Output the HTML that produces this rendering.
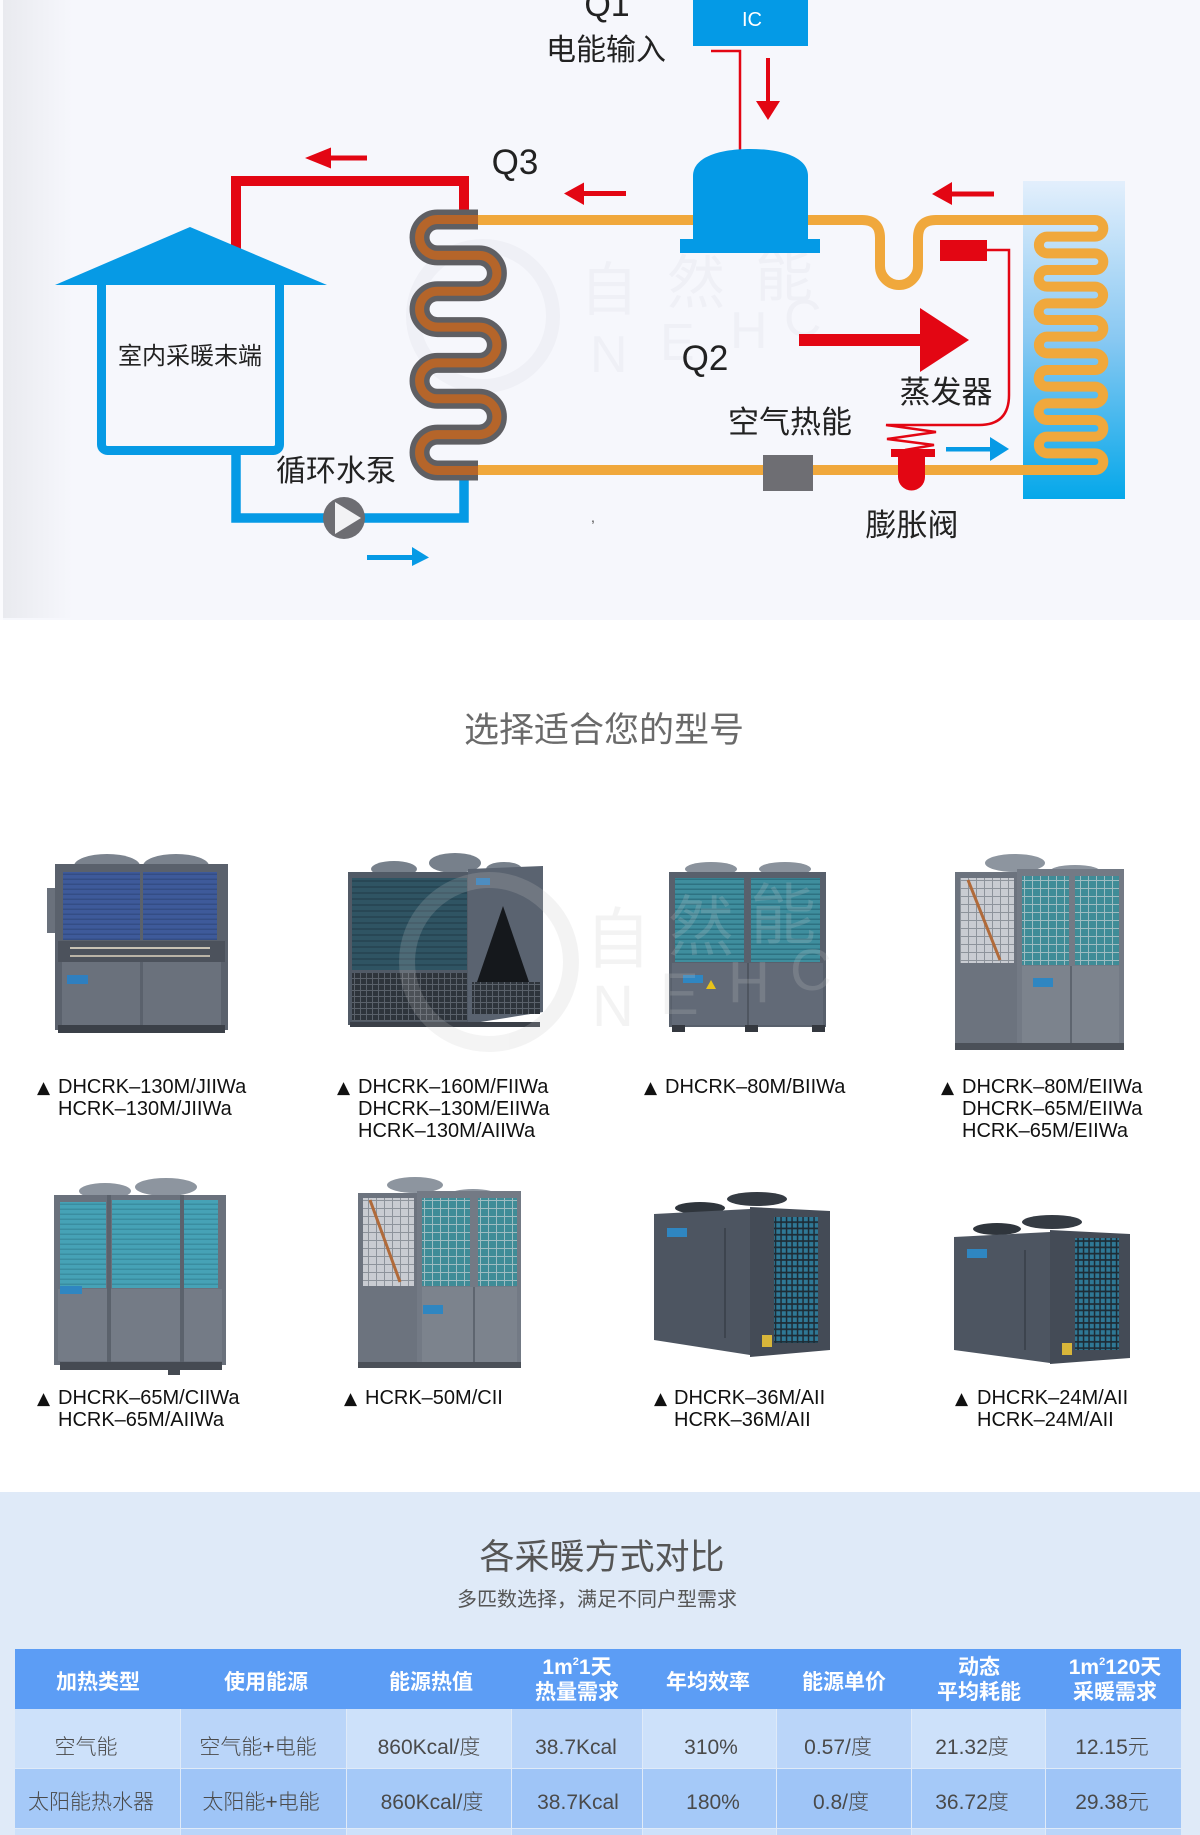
<!DOCTYPE html>
<html>
<head>
<meta charset="utf-8">
<style>
html,body{margin:0;padding:0;background:#fff;}
svg{display:block;}
.t{font-family:"Liberation Sans","Noto Sans CJK SC",sans-serif;}
.cn{font-family:"Liberation Sans","Noto Sans CJK SC",sans-serif;}
</style>
</head>
<body>
<svg width="1200" height="1835" viewBox="0 0 1200 1835" xmlns="http://www.w3.org/2000/svg">
<defs>
  <linearGradient id="evap" x1="0" y1="0" x2="0" y2="1">
    <stop offset="0" stop-color="#e3effc"/>
    <stop offset="0.5" stop-color="#88c8f2"/>
    <stop offset="1" stop-color="#05a8ea"/>
  </linearGradient>
  <linearGradient id="leftedge" x1="0" y1="0" x2="1" y2="0">
    <stop offset="0" stop-color="#e9eaef"/>
    <stop offset="1" stop-color="#f6f7fc"/>
  </linearGradient>
  <pattern id="fin" width="4" height="5" patternUnits="userSpaceOnUse"><rect width="4" height="5" fill="#3f8e9e"/><rect y="3.5" width="4" height="1.5" fill="#2e7282"/></pattern>
  <pattern id="finl" width="4" height="5" patternUnits="userSpaceOnUse"><rect width="4" height="5" fill="#46a2b6"/><rect y="3.5" width="4" height="1.5" fill="#3a8da0"/></pattern>
  <pattern id="finb" width="4" height="5" patternUnits="userSpaceOnUse"><rect width="4" height="5" fill="#3e5a9a"/><rect y="3.5" width="4" height="1.5" fill="#344d85"/></pattern>
  <pattern id="find" width="4" height="6" patternUnits="userSpaceOnUse"><rect width="4" height="6" fill="#2f5463"/><rect y="4" width="4" height="2" fill="#284755"/></pattern>
  <pattern id="grill" width="5.5" height="6.3" patternUnits="userSpaceOnUse"><rect width="5.5" height="6.3" fill="#1e2b34"/><rect x="0.8" y="0.8" width="4" height="4.6" fill="#2f7895"/></pattern>
  <pattern id="mesh" width="8" height="8" patternUnits="userSpaceOnUse"><rect width="8" height="8" fill="#3f8c97"/><path d="M0,0.5H8M0.5,0V8" stroke="#9fbcc1" stroke-width="1"/></pattern>
  <pattern id="meshw" width="8" height="8" patternUnits="userSpaceOnUse"><rect width="8" height="8" fill="#c9ccd2"/><path d="M0,0.5H8M0.5,0V8" stroke="#8d939b" stroke-width="1"/></pattern>
  <pattern id="blk" width="6" height="6" patternUnits="userSpaceOnUse"><rect width="6" height="6" fill="#2e343b"/><path d="M0,0.5H6M0.5,0V6" stroke="#5a616a" stroke-width="1"/></pattern>
</defs>

<!-- ============ DIAGRAM PANEL ============ -->
<rect x="0" y="0" width="1200" height="620" fill="#f6f7fc"/>
<rect x="3" y="0" width="70" height="618" fill="url(#leftedge)"/>
<rect x="0" y="0" width="3" height="620" fill="#fbfbfe"/>

<!-- watermark diagram -->
<g fill="none" stroke="#eff0f6" stroke-width="14">
  <circle cx="483" cy="316" r="70"/>
</g>
<g class="cn" fill="#eff0f6" font-size="58">
  <text x="580" y="310">自</text>
  <text x="667" y="303">然</text>
  <text x="755" y="296">能</text>
</g>
<g class="t" fill="#eff0f6" font-size="52">
  <text x="590" y="372">N</text>
  <text x="660" y="360">E</text>
  <text x="730" y="348">H</text>
  <text x="784" y="336">C</text>
</g>

<!-- IC box -->
<rect x="693" y="0" width="115" height="46" fill="#049ae6"/>
<text x="752" y="26" class="t" font-size="20" fill="#ffffff" text-anchor="middle">IC</text>
<path d="M711,51 H740 V150" fill="none" stroke="#e30613" stroke-width="2.5"/>
<!-- down arrow -->
<rect x="766" y="58" width="4" height="46" fill="#e30613"/>
<polygon points="756,101 780,101 768,120" fill="#e30613"/>

<!-- labels top -->
<text x="607" y="16" class="t" font-size="34" fill="#222" text-anchor="middle">Q1</text>
<text x="606" y="60" class="cn" font-size="30" fill="#222" text-anchor="middle">电能输入</text>
<text x="515" y="174" class="t" font-size="35" fill="#222" text-anchor="middle">Q3</text>

<!-- red water pipe -->
<path d="M236,252 V181 H464 V214" fill="none" stroke="#e30613" stroke-width="10"/>
<!-- blue water pipe -->
<path d="M236,448 V518 H464 V476" fill="none" stroke="#069ae5" stroke-width="9.5"/>

<!-- house -->
<rect x="101.5" y="272" width="178" height="178.5" rx="6" fill="none" stroke="#069ae5" stroke-width="9"/>
<polygon points="55,285 190,227 327,285" fill="#069ae5"/>
<text x="190" y="364" class="cn" font-size="24" fill="#222" text-anchor="middle">室内采暖末端</text>

<!-- red arrow top-left -->
<rect x="326" y="155.5" width="41" height="5" fill="#e30613"/>
<polygon points="305,158 331,147.5 331,168.5" fill="#e30613"/>

<!-- condenser coil -->
<path d="M478,219.5 H437.5 A17.9,17.9 0 0 0 437.5,255.4 H479 A17.9,17.9 0 0 1 479,291.2 H437.5 A17.9,17.9 0 0 0 437.5,327.1 H479 A17.9,17.9 0 0 1 479,362.9 H437.5 A17.9,17.9 0 0 0 437.5,398.8 H479 A17.9,17.9 0 0 1 479,434.6 H437.5 A17.9,17.9 0 0 0 437.5,470.5 H478" fill="none" stroke="#5f5f63" stroke-width="20"/>
<path d="M478,219.5 H437.5 A17.9,17.9 0 0 0 437.5,255.4 H479 A17.9,17.9 0 0 1 479,291.2 H437.5 A17.9,17.9 0 0 0 437.5,327.1 H479 A17.9,17.9 0 0 1 479,362.9 H437.5 A17.9,17.9 0 0 0 437.5,398.8 H479 A17.9,17.9 0 0 1 479,434.6 H437.5 A17.9,17.9 0 0 0 437.5,470.5 H478" fill="none" stroke="#b5652a" stroke-width="9"/>

<!-- evaporator panel -->
<rect x="1023" y="181" width="102" height="318" fill="url(#evap)"/>

<!-- refrigerant orange pipe -->
<path d="M478,220 H862 Q880,220 880,238 V266 A19,19 0 0 0 918,266 V238 Q918,220 936,220 H1095 A8.333,8.333 0 0 1 1095,236.67 H1047 A8.333,8.333 0 0 0 1047,253.33 H1095 A8.333,8.333 0 0 1 1095,270 H1047 A8.333,8.333 0 0 0 1047,286.67 H1095 A8.333,8.333 0 0 1 1095,303.33 H1047 A8.333,8.333 0 0 0 1047,320 H1095 A8.333,8.333 0 0 1 1095,336.67 H1047 A8.333,8.333 0 0 0 1047,353.33 H1095 A8.333,8.333 0 0 1 1095,370 H1047 A8.333,8.333 0 0 0 1047,386.67 H1095 A8.333,8.333 0 0 1 1095,403.33 H1047 A8.333,8.333 0 0 0 1047,420 H1095 A8.333,8.333 0 0 1 1095,436.67 H1047 A8.333,8.333 0 0 0 1047,453.33 H1095 A8.333,8.333 0 0 1 1095,470 H478" fill="none" stroke="#f0a83c" stroke-width="10"/>

<!-- compressor -->
<path d="M693,176 C693,156 722,149 750,149 C779,149 808,156 808,176 V240 H693 Z" fill="#049ae6"/>
<rect x="680" y="239" width="140" height="14" fill="#049ae6"/>

<!-- red arrow left of compressor -->
<rect x="582" y="191" width="44" height="5" fill="#e30613"/>
<polygon points="564,193.5 584,182.5 584,205" fill="#e30613"/>
<!-- red arrow above U -->
<rect x="950" y="191.5" width="44" height="5" fill="#e30613"/>
<polygon points="932,194 952,182 952,205" fill="#e30613"/>

<!-- sensor -->
<rect x="940" y="240" width="47" height="21" fill="#e30613"/>
<path d="M987,250 H1009 V395 Q1009,425 979,425 H886 L936,432 L887,439 L934,445 L905,450" fill="none" stroke="#e30613" stroke-width="2.5" stroke-linejoin="miter"/>

<!-- big Q2 arrow -->
<rect x="799" y="334" width="123" height="12" fill="#e30613"/>
<polygon points="920,308 969,340 920,372" fill="#e30613"/>
<text x="705" y="370" class="t" font-size="35" fill="#222" text-anchor="middle">Q2</text>

<text x="946" y="403" class="cn" font-size="31" fill="#222" text-anchor="middle">蒸发器</text>
<text x="790" y="433" class="cn" font-size="31" fill="#222" text-anchor="middle">空气热能</text>
<text x="912" y="536" class="cn" font-size="31" fill="#222" text-anchor="middle">膨胀阀</text>

<!-- gray filter box -->
<rect x="763" y="455" width="50" height="36" fill="#6e6e73"/>
<!-- expansion valve -->
<rect x="891" y="449" width="44" height="8" fill="#e30613"/>
<path d="M898,456 V477 A13.5,13.5 0 0 0 925,477 V456 Z" fill="#e30613"/>

<!-- blue arrow right -->
<rect x="946" y="447" width="46" height="4.5" fill="#069ae5"/>
<polygon points="990,437 1009,449 990,461" fill="#069ae5"/>

<!-- pump -->
<circle cx="344" cy="518" r="21" fill="#6d6d72"/>
<polygon points="335,502 335,534 361,518" fill="#f2f2f4"/>
<text x="336" y="481" class="cn" font-size="30" fill="#222" text-anchor="middle">循环水泵</text>

<!-- blue arrow bottom -->
<rect x="367" y="555" width="47" height="5" fill="#069ae5"/>
<polygon points="412,547 429,557.5 412,566" fill="#069ae5"/>

<text x="591" y="522" class="t" font-size="14" fill="#444">,</text>

<!-- ============ PRODUCTS ============ -->
<text x="604" y="742" class="cn" font-size="35" fill="#6a6a6a" text-anchor="middle">选择适合您的型号</text>

<!-- Product 1 -->
<g>
  <ellipse cx="107" cy="866" rx="33" ry="12" fill="#7b838e"/>
  <ellipse cx="176" cy="866" rx="33" ry="12" fill="#7b838e"/>
  <rect x="47" y="888" width="10" height="45" fill="#6a717c"/>
  <rect x="55" y="864" width="173" height="166" fill="#5a616c"/>
  <rect x="63" y="872" width="77" height="68" fill="url(#finb)"/>
  <rect x="143" y="872" width="74" height="68" fill="url(#finb)"/>
  <rect x="58" y="941" width="167" height="21" fill="#4c525c"/>
  <rect x="70" y="947" width="140" height="2" fill="#c8c2b4"/>
  <rect x="70" y="955" width="140" height="2" fill="#b9b3a6"/>
  <rect x="62" y="962" width="78" height="63" fill="#6a717c"/>
  <rect x="143" y="962" width="78" height="63" fill="#6a717c"/>
  <rect x="67" y="975" width="21" height="9" fill="#2f7fbf"/>
  <rect x="58" y="1025" width="167" height="8" fill="#3b4048"/>
</g>
<!-- Product 2 -->
<g>
  <ellipse cx="394" cy="869" rx="23" ry="8" fill="#77808b"/>
  <ellipse cx="455" cy="863" rx="26" ry="10" fill="#77808b"/>
  <ellipse cx="504" cy="869" rx="18" ry="7" fill="#77808b"/>
  <rect x="348" y="872" width="121" height="153" fill="#515a66"/>
  <rect x="352" y="878" width="115" height="92" fill="url(#find)"/>
  <rect x="352" y="973" width="115" height="48" fill="url(#blk)"/>
  <polygon points="468,869 543,866 543,1012 468,1024" fill="#5a6370"/>
  <polygon points="503,906 477,982 529,982" fill="#15181c"/>
  <rect x="472" y="982" width="68" height="32" fill="url(#blk)"/>
  <rect x="476" y="878" width="14" height="7" fill="#2f7fbf"/>
  <rect x="350" y="1022" width="190" height="5" fill="#3a3f47"/>
</g>
<!-- Product 3 -->
<g>
  <ellipse cx="711" cy="869" rx="26" ry="7" fill="#8a929c"/>
  <ellipse cx="785" cy="869" rx="26" ry="7" fill="#8a929c"/>
  <rect x="669" y="872" width="157" height="155" fill="#58606c"/>
  <rect x="675" y="878" width="69" height="84" fill="url(#fin)"/>
  <rect x="751" y="878" width="69" height="84" fill="url(#fin)"/>
  <rect x="672" y="963" width="151" height="62" fill="#626a77"/>
  <rect x="747" y="963" width="2" height="62" fill="#4f5661"/>
  <rect x="683" y="975" width="20" height="8" fill="#2f86c1"/>
  <polygon points="711,980 716,989 706,989" fill="#e8c21a"/>
  <rect x="672" y="1025" width="13" height="7" fill="#34383f"/>
  <rect x="745" y="1025" width="13" height="7" fill="#34383f"/>
  <rect x="812" y="1025" width="13" height="7" fill="#34383f"/>
</g>
<!-- Product 4 -->
<g>
  <ellipse cx="1015" cy="863" rx="30" ry="9" fill="#8d959f"/>
  <ellipse cx="1075" cy="872" rx="26" ry="7" fill="#8d959f"/>
  <rect x="955" y="872" width="63" height="172" fill="#6c737e"/>
  <rect x="960" y="878" width="54" height="85" fill="url(#meshw)"/>
  <line x1="968" y1="880" x2="1000" y2="960" stroke="#b06a3a" stroke-width="3"/>
  <rect x="1017" y="869" width="107" height="181" fill="#737a85"/>
  <rect x="1022" y="876" width="47" height="89" fill="url(#mesh)"/>
  <rect x="1075" y="876" width="44" height="89" fill="url(#mesh)"/>
  <rect x="1022" y="966" width="97" height="78" fill="#7c838d"/>
  <rect x="1070" y="966" width="2" height="78" fill="#5e656f"/>
  <rect x="1033" y="978" width="20" height="9" fill="#2f86c1"/>
  <rect x="955" y="1043" width="169" height="7" fill="#4b5058"/>
</g>
<!-- Product 5 -->
<g>
  <ellipse cx="105" cy="1191" rx="26" ry="8" fill="#8d959f"/>
  <ellipse cx="166" cy="1187" rx="31" ry="9" fill="#8d959f"/>
  <rect x="54" y="1195" width="172" height="170" fill="#6a717c"/>
  <rect x="60" y="1202" width="46" height="86" fill="url(#finl)"/>
  <rect x="112" y="1200" width="68" height="88" fill="url(#finl)"/>
  <rect x="183" y="1200" width="35" height="88" fill="url(#finl)"/>
  <rect x="58" y="1289" width="164" height="72" fill="#747b86"/>
  <rect x="107" y="1195" width="4" height="170" fill="#5b626c"/>
  <rect x="180" y="1195" width="4" height="175" fill="#5b626c"/>
  <rect x="60" y="1286" width="22" height="8" fill="#2f86c1"/>
  <rect x="60" y="1362" width="162" height="8" fill="#454a52"/>
  <rect x="168" y="1365" width="12" height="10" fill="#454a52"/>
</g>
<!-- Product 6 -->
<g>
  <ellipse cx="415" cy="1185" rx="28" ry="8" fill="#8d959f"/>
  <ellipse cx="473" cy="1195" rx="24" ry="6" fill="#8d959f"/>
  <rect x="358" y="1193" width="60" height="170" fill="#6c737e"/>
  <rect x="363" y="1198" width="51" height="88" fill="url(#meshw)"/>
  <line x1="370" y1="1200" x2="400" y2="1282" stroke="#b06a3a" stroke-width="3"/>
  <rect x="417" y="1191" width="104" height="177" fill="#737a85"/>
  <rect x="422" y="1198" width="48" height="88" fill="url(#mesh)"/>
  <rect x="478" y="1198" width="39" height="88" fill="url(#mesh)"/>
  <rect x="422" y="1287" width="95" height="77" fill="#7c838d"/>
  <rect x="473" y="1287" width="2" height="77" fill="#5e656f"/>
  <rect x="423" y="1305" width="20" height="9" fill="#2f86c1"/>
  <rect x="358" y="1362" width="163" height="6" fill="#4b5058"/>
</g>
<!-- Product 7 -->
<g>
  <ellipse cx="700" cy="1208" rx="25" ry="6" fill="#2f353c"/>
  <ellipse cx="757" cy="1199" rx="30" ry="7" fill="#353b43"/>
  <polygon points="654,1214 750,1209 750,1355 654,1340" fill="#4d5561"/>
  <polygon points="750,1207 830,1211 830,1350 750,1357" fill="#444b56"/>
  <rect x="774" y="1217" width="44" height="126" fill="url(#grill)"/>
  <rect x="667" y="1228" width="20" height="9" fill="#2f86c1"/>
  <rect x="724" y="1228" width="2" height="110" fill="#3d444e"/>
  <rect x="762" y="1335" width="10" height="12" fill="#d8b63a"/>
</g>
<!-- Product 8 -->
<g>
  <ellipse cx="997" cy="1229" rx="24" ry="6" fill="#2f353c"/>
  <ellipse cx="1052" cy="1222" rx="30" ry="7" fill="#353b43"/>
  <polygon points="954,1237 1050,1232 1050,1363 954,1350" fill="#4d5561"/>
  <polygon points="1050,1230 1130,1234 1130,1358 1050,1364" fill="#444b56"/>
  <rect x="1075" y="1238" width="44" height="112" fill="url(#grill)"/>
  <rect x="967" y="1249" width="20" height="9" fill="#2f86c1"/>
  <rect x="1024" y="1250" width="2" height="100" fill="#3d444e"/>
  <rect x="1062" y="1343" width="10" height="12" fill="#d8b63a"/>
</g>

<!-- products watermark overlay -->
<g opacity="0.2">
  <circle cx="489" cy="962" r="82" fill="none" stroke="#c8c8c8" stroke-width="16"/>
  <g class="cn" fill="#c8c8c8" font-size="66">
    <text x="585" y="962">自</text>
    <text x="668" y="950">然</text>
    <text x="750" y="938">能</text>
  </g>
  <g class="t" fill="#c8c8c8" font-size="58">
    <text x="592" y="1026">N</text>
    <text x="660" y="1014">E</text>
    <text x="728" y="1002">H</text>
    <text x="790" y="990">C</text>
  </g>
</g>

<!-- product labels -->
<g class="t" font-size="20" fill="#111">
  <text x="37" y="1093" font-size="17" font-family="DejaVu Sans, sans-serif">▲</text>
  <text x="58" y="1093">DHCRK–130M/JIIWa</text>
  <text x="58" y="1115">HCRK–130M/JIIWa</text>

  <text x="337" y="1093" font-size="17" font-family="DejaVu Sans, sans-serif">▲</text>
  <text x="358" y="1093">DHCRK–160M/FIIWa</text>
  <text x="358" y="1115">DHCRK–130M/EIIWa</text>
  <text x="358" y="1137">HCRK–130M/AIIWa</text>

  <text x="644" y="1093" font-size="17" font-family="DejaVu Sans, sans-serif">▲</text>
  <text x="665" y="1093">DHCRK–80M/BIIWa</text>

  <text x="941" y="1093" font-size="17" font-family="DejaVu Sans, sans-serif">▲</text>
  <text x="962" y="1093">DHCRK–80M/EIIWa</text>
  <text x="962" y="1115">DHCRK–65M/EIIWa</text>
  <text x="962" y="1137">HCRK–65M/EIIWa</text>

  <text x="37" y="1404" font-size="17" font-family="DejaVu Sans, sans-serif">▲</text>
  <text x="58" y="1404">DHCRK–65M/CIIWa</text>
  <text x="58" y="1426">HCRK–65M/AIIWa</text>

  <text x="344" y="1404" font-size="17" font-family="DejaVu Sans, sans-serif">▲</text>
  <text x="365" y="1404">HCRK–50M/CII</text>

  <text x="654" y="1404" font-size="17" font-family="DejaVu Sans, sans-serif">▲</text>
  <text x="674" y="1404">DHCRK–36M/AII</text>
  <text x="674" y="1426">HCRK–36M/AII</text>

  <text x="955" y="1404" font-size="17" font-family="DejaVu Sans, sans-serif">▲</text>
  <text x="977" y="1404">DHCRK–24M/AII</text>
  <text x="977" y="1426">HCRK–24M/AII</text>
</g>

<!-- ============ COMPARISON TABLE ============ -->
<rect x="0" y="1492" width="1200" height="343" fill="#dfeaf8"/>
<text x="602" y="1569" class="cn" font-size="35" fill="#555" text-anchor="middle">各采暖方式对比</text>
<text x="597" y="1606" class="cn" font-size="20" fill="#555" text-anchor="middle">多匹数选择，满足不同户型需求</text>

<!-- header -->
<rect x="15" y="1649" width="1166" height="60" fill="#5c9df5"/>
<!-- row 1 -->
<g>
  <rect x="15" y="1709" width="165" height="59" fill="#cde1fa"/>
  <rect x="181" y="1709" width="165" height="59" fill="#bad5f9"/>
  <rect x="347" y="1709" width="164" height="59" fill="#cde1fa"/>
  <rect x="512" y="1709" width="130" height="59" fill="#bad5f9"/>
  <rect x="643" y="1709" width="133" height="59" fill="#cde1fa"/>
  <rect x="777" y="1709" width="134" height="59" fill="#bad5f9"/>
  <rect x="912" y="1709" width="133" height="59" fill="#cde1fa"/>
  <rect x="1046" y="1709" width="135" height="59" fill="#bad5f9"/>
</g>
<!-- row 2 -->
<g>
  <rect x="15" y="1769" width="165" height="59" fill="#a5c9f8"/>
  <rect x="181" y="1769" width="165" height="59" fill="#9fc5f7"/>
  <rect x="347" y="1769" width="164" height="59" fill="#a5c9f8"/>
  <rect x="512" y="1769" width="130" height="59" fill="#9fc5f7"/>
  <rect x="643" y="1769" width="133" height="59" fill="#a5c9f8"/>
  <rect x="777" y="1769" width="134" height="59" fill="#9fc5f7"/>
  <rect x="912" y="1769" width="133" height="59" fill="#a5c9f8"/>
  <rect x="1046" y="1769" width="135" height="59" fill="#9fc5f7"/>
</g>
<!-- row 3 (partial) -->
<g>
  <rect x="15" y="1829" width="165" height="6" fill="#cde1fa"/>
  <rect x="181" y="1829" width="165" height="6" fill="#bad5f9"/>
  <rect x="347" y="1829" width="164" height="6" fill="#cde1fa"/>
  <rect x="512" y="1829" width="130" height="6" fill="#bad5f9"/>
  <rect x="643" y="1829" width="133" height="6" fill="#cde1fa"/>
  <rect x="777" y="1829" width="134" height="6" fill="#bad5f9"/>
  <rect x="912" y="1829" width="133" height="6" fill="#cde1fa"/>
  <rect x="1046" y="1829" width="135" height="6" fill="#bad5f9"/>
</g>

<!-- header text -->
<g class="cn" font-size="21" font-weight="bold" fill="#ffffff" text-anchor="middle">
  <text x="98" y="1689">加热类型</text>
  <text x="266" y="1689">使用能源</text>
  <text x="431" y="1689">能源热值</text>
  <text x="577" y="1674">1m<tspan font-size="11" dy="-9">2</tspan><tspan dy="9">1天</tspan></text>
  <text x="577" y="1699">热量需求</text>
  <text x="708" y="1689">年均效率</text>
  <text x="844" y="1689">能源单价</text>
  <text x="979" y="1674">动态</text>
  <text x="979" y="1699">平均耗能</text>
  <text x="1115" y="1674">1m<tspan font-size="11" dy="-9">2</tspan><tspan dy="9">120天</tspan></text>
  <text x="1115" y="1699">采暖需求</text>
</g>

<!-- row text -->
<g class="cn" font-size="21" font-weight="300" fill="#4a4a4a" text-anchor="middle">
  <text x="86" y="1754">空气能</text>
  <text x="258" y="1754">空气能+电能</text>
  <text x="429" y="1754">860Kcal/度</text>
  <text x="576" y="1754">38.7Kcal</text>
  <text x="711" y="1754">310%</text>
  <text x="838" y="1754">0.57/度</text>
  <text x="972" y="1754">21.32度</text>
  <text x="1112" y="1754">12.15元</text>

  <text x="91" y="1809">太阳能热水器</text>
  <text x="261" y="1809">太阳能+电能</text>
  <text x="432" y="1809">860Kcal/度</text>
  <text x="578" y="1809">38.7Kcal</text>
  <text x="713" y="1809">180%</text>
  <text x="841" y="1809">0.8/度</text>
  <text x="972" y="1809">36.72度</text>
  <text x="1112" y="1809">29.38元</text>
</g>
</svg>
</body>
</html>
